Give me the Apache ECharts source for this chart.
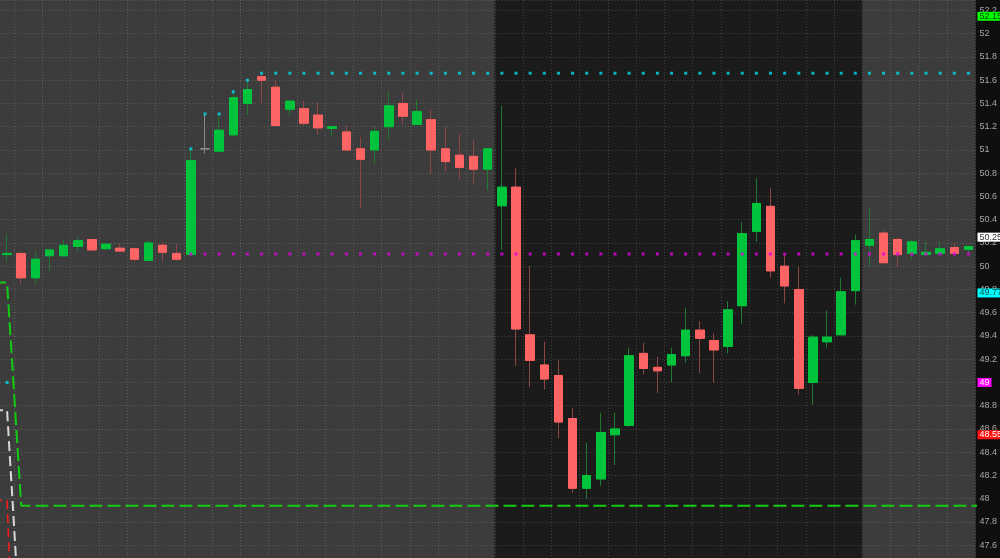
<!DOCTYPE html>
<html>
<head>
<meta charset="utf-8">
<script src="https://cdn.jsdelivr.net/npm/echarts/dist/echarts.min.js"></script>
<style>
html,body{margin:0;padding:0;background:#0f0f0f;}
#c{width:1000px;height:558px;}
</style>
</head>
<body>
<div id="c"></div>
<script>
// ---------- data ----------
const open = [
  50.10,50.11,49.90,50.09,50.09,50.17,50.23,50.15,50.155,50.15,
  50.05,50.18,50.11,50.10,51.01,50.99,51.13,51.40,51.63,51.54,
  51.35,51.355,51.30,51.185,51.155,51.01,51.00,51.20,51.40,51.22,
  51.26,51.01,50.955,50.945,50.835,50.52,50.68,49.41,49.15,49.06,
  48.69,48.09,48.17,48.55,48.63,49.25,49.13,49.15,49.23,49.45,
  49.36,49.31,49.66,50.30,50.515,50.00,49.80,49.00,49.35,49.41,
  49.79,50.18,50.285,50.23,50.11,50.10,50.11,50.16,50.145
];
const close = [
  50.11,49.90,50.06,50.14,50.18,50.22,50.14,50.19,50.13,50.06,
  50.20,50.12,50.06,50.91,51.01,51.17,51.45,51.52,51.60,51.21,
  51.42,51.23,51.19,51.20,51.00,50.92,51.16,51.38,51.29,51.33,
  51.00,50.90,50.85,50.835,51.01,50.68,49.46,49.19,49.03,48.66,
  48.09,48.20,48.57,48.60,49.23,49.12,49.10,49.24,49.45,49.38,
  49.28,49.625,50.28,50.54,49.96,49.83,48.95,49.39,49.39,49.78,
  50.22,50.23,50.03,50.10,50.21,50.12,50.15,50.11,50.17
];
const high = [
  50.27,50.12,50.13,50.14,50.23,50.25,50.23,50.19,50.20,50.15,
  50.23,50.21,50.19,51.01,51.31,51.31,51.50,51.60,51.66,51.60,
  51.42,51.42,51.41,51.21,51.21,51.11,51.20,51.50,51.49,51.43,
  51.35,51.20,51.14,51.09,51.01,51.38,50.84,50.00,49.35,49.19,
  48.78,48.48,48.74,48.74,49.30,49.34,49.22,49.30,49.64,49.525,
  49.42,49.70,50.38,50.76,50.67,50.10,50.00,49.41,49.62,49.90,
  50.27,50.50,50.305,50.25,50.23,50.21,50.21,50.205,50.17
];
const low = [
  50.04,49.84,49.85,49.96,50.09,50.13,50.14,50.14,50.13,50.04,
  50.05,50.04,50.05,50.10,50.97,50.99,51.11,51.30,51.40,51.21,
  51.30,51.21,51.13,51.11,51.00,50.50,50.88,51.09,51.22,51.22,
  50.79,50.81,50.75,50.70,50.65,50.14,49.14,48.96,48.94,48.52,
  48.05,48.00,48.11,48.29,48.62,49.07,48.91,49.00,49.17,49.08,
  49.00,49.25,49.505,50.21,49.90,49.68,48.90,48.81,49.30,49.41,
  49.67,50.00,50.03,50.00,50.06,50.10,50.11,50.11,50.11
];
// cyan dotted study (running high) per bar
const cyanDots = [
  49.00,'-','-','-','-','-','-','-','-','-',
  '-','-','-',51.01,51.31,51.31,51.50,51.60,51.66,51.66,
  51.66,51.66,51.66,51.66,51.66,51.66,51.66,51.66,51.66,51.66,
  51.66,51.66,51.66,51.66,51.66,51.66,51.66,51.66,51.66,51.66,
  51.66,51.66,51.66,51.66,51.66,51.66,51.66,51.66,51.66,51.66,
  51.66,51.66,51.66,51.66,51.66,51.66,51.66,51.66,51.66,51.66,
  51.66,51.66,51.66,51.66,51.66,51.66,51.66,51.66,51.66
];
// magenta dotted study per bar
const magentaDots = [
  '-','-','-','-','-','-','-','-','-','-',
  '-','-','-',50.105,50.105,50.105,50.105,50.105,50.105,50.105,
  50.105,50.105,50.105,50.105,50.105,50.105,50.105,50.105,50.105,50.105,
  50.105,50.105,50.105,50.105,50.105,50.105,50.105,50.105,50.105,50.105,
  50.105,50.105,50.105,50.105,50.105,50.105,50.105,50.105,50.105,50.105,
  50.105,50.105,50.105,50.105,50.105,50.105,50.105,50.105,50.105,50.105,
  50.105,50.105,50.105,50.105,50.105,50.105,50.105,50.105,50.105
];
// dashed step studies at the left edge (bar index, value)
const greenX = [-1, 0, 1, 69];
const greenY = [49.86, 49.86, 47.94, 47.94];
const whiteX = [-1, 0, 1];
const whiteY = [48.76, 48.76, 46.74];
const redX = [-1, 0, 1];
const redY = [47.985, 47.985, 44.81];
// session shading: first bar index of the dark session and first bar after it
const darkSessionStart = 35;
const darkSessionEnd = 61;
// price tags on the right axis
const tagValues = [52.15, 50.25, 49.77, 49.00, 48.55];
const tagTexts = ['52.15', '50.25', '49.77', '49', '48.55'];
// visible price range and tick step
const yMin = 47.49, yMax = 52.29, yStep = 0.2;

// ---------- styles ----------
const UP = '#00c43c', DOWN = '#ff6464', UP_WICK = '#1e7a30', DOWN_WICK = '#8c4646', DOJI = '#8a8a8a';
const GRAY = '#3c3c3c', DARK = '#1b1b1b';
const GRID = 'rgba(255,255,255,0.16)';
const tagStyles = [
  {bg: '#00ff00', fg: '#0b3b0b'},
  {bg: '#ffffff', fg: '#333333'},
  {bg: '#00ffff', fg: '#0a4a4a'},
  {bg: '#ff00ff', fg: '#ffffff'},
  {bg: '#ff1010', fg: '#ffffff'}
];
const FONT = 'Liberation Sans, Arial, sans-serif';

const cats = open.map((_, i) => String(i + 1));
const dojiStyle = {color: DOJI, color0: DOJI, borderColor: DOJI, borderColor0: DOJI};
const wickData = open.map((o, i) => {
  const v = [o, close[i], low[i], high[i]];
  return o === close[i] ? {value: v, itemStyle: dojiStyle} : v;
});
const bodyData = open.map((o, i) => {
  const c = close[i];
  const v = [o, c, Math.min(o, c), Math.max(o, c)];
  return o === c ? {value: v, itemStyle: dojiStyle} : v;
});
const pairs = (xs, ys) => xs.map((x, i) => [x, ys[i]]);

const chart = echarts.init(document.getElementById('c'), null, {renderer: 'canvas'});
chart.setOption({
  animation: false,
  backgroundColor: '#0f0f0f',
  grid: {left: 0, right: 20, top: 0, bottom: 0},
  xAxis: [
    {
      type: 'category', data: cats, boundaryGap: true, z: 1,
      axisLine: {show: false}, axisTick: {show: false}, axisLabel: {show: false},
      splitLine: {show: true, interval: (i) => i % 2 === 1, lineStyle: {color: GRID, type: [1, 2], width: 1}}
    },
    {type: 'value', min: -0.5, max: open.length - 0.5, show: false}
  ],
  yAxis: {
    type: 'value', position: 'right', min: yMin, max: yMax, z: 1,
    minInterval: yStep, maxInterval: yStep, splitNumber: 24,
    axisLine: {show: false}, axisTick: {show: false},
    axisLabel: {color: '#a8a8a8', fontSize: 9, margin: 4, fontFamily: FONT, showMinLabel: false, showMaxLabel: false},
    splitLine: {show: true, lineStyle: {color: GRID, type: [1, 2], width: 1}}
  },
  series: [
    {
      type: 'line', xAxisIndex: 1, data: [], z: -1, silent: true,
      markArea: {
        silent: true, z: -1,
        data: [
          [{xAxis: -0.5, itemStyle: {color: GRAY}}, {xAxis: darkSessionStart - 0.5}],
          [{xAxis: darkSessionStart - 0.5, itemStyle: {color: DARK}}, {xAxis: darkSessionEnd - 0.5}],
          [{xAxis: darkSessionEnd - 0.5, itemStyle: {color: GRAY}}, {xAxis: open.length - 0.5}]
        ]
      }
    },
    {
      type: 'candlestick', data: wickData, barWidth: 9, z: 2,
      itemStyle: {color: UP, color0: DOWN, borderColor: UP_WICK, borderColor0: DOWN_WICK, borderWidth: 1}
    },
    {
      type: 'candlestick', data: bodyData, barWidth: 9, z: 3,
      itemStyle: {color: UP, color0: DOWN, borderColor: UP, borderColor0: DOWN, borderWidth: 1}
    },
    {
      type: 'scatter', data: cyanDots, symbol: 'rect', symbolSize: 3, z: 4,
      itemStyle: {color: '#00d8e8'}
    },
    {
      type: 'scatter', data: magentaDots, symbol: 'rect', symbolSize: 3, z: 4,
      itemStyle: {color: '#e000e0'}
    },
    {
      type: 'line', xAxisIndex: 1, data: pairs(greenX, greenY), symbol: 'none', z: 4,
      lineStyle: {color: '#12cc12', width: 2, type: [13, 5]}
    },
    {
      type: 'line', xAxisIndex: 1, data: pairs(whiteX, whiteY), symbol: 'none', z: 4,
      lineStyle: {color: '#d8d8d8', width: 2, type: [10, 5]}
    },
    {
      type: 'line', xAxisIndex: 1, data: pairs(redX, redY), symbol: 'none', z: 4,
      lineStyle: {color: '#ff1a1a', width: 1.5, type: [9, 5]}
    },
    {
      type: 'line', data: [], z: 10, silent: true,
      markLine: {
        silent: true, symbol: 'none', animation: false, z: 10,
        lineStyle: {color: 'rgba(0,0,0,0)', width: 0},
        data: tagValues.map((v, i) => ({
          yAxis: v,
          label: {
            show: true, position: 'end', distance: 2, formatter: tagTexts[i],
            fontSize: 9, fontFamily: FONT, lineHeight: 9,
            color: tagStyles[i].fg, backgroundColor: tagStyles[i].bg,
            padding: [0, 2, 0, 2]
          }
        }))
      }
    }
  ]
});
</script>
</body>
</html>
